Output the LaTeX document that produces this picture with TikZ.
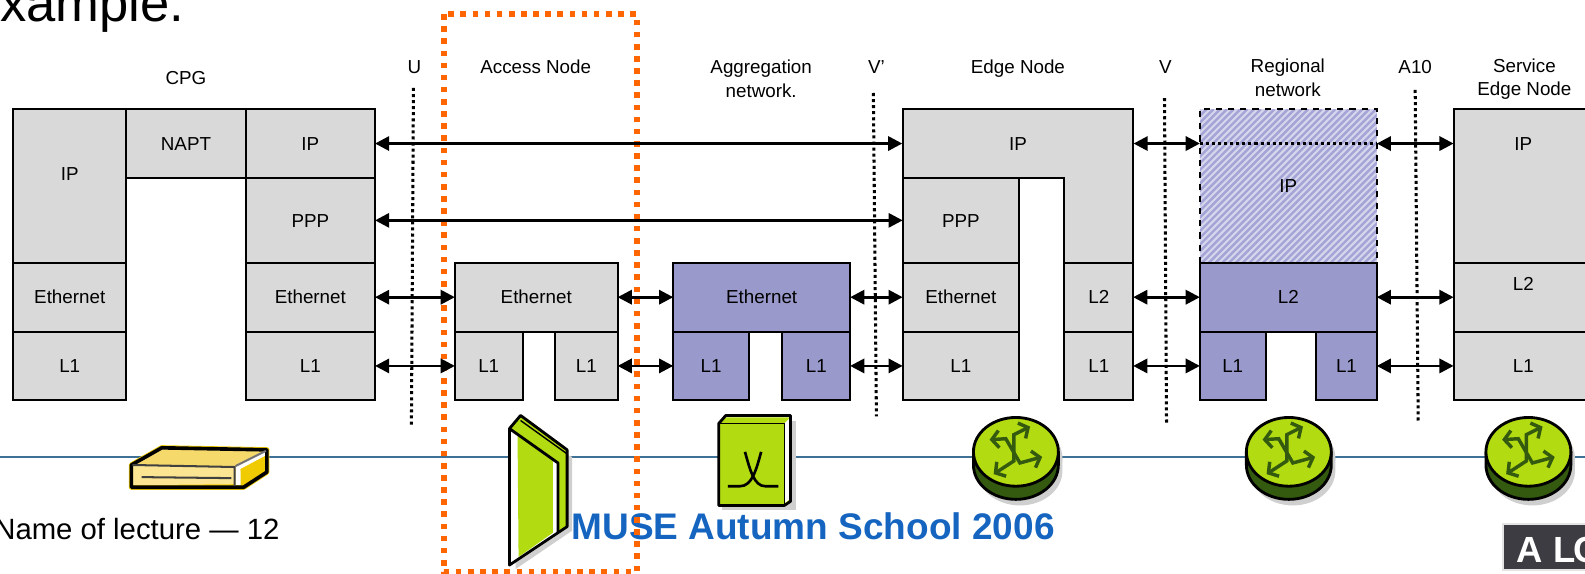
\documentclass[tikz,border=0pt]{standalone}
\usepackage{fontspec}
\setmainfont{Liberation Sans}
\usepackage{xcolor}
\usetikzlibrary{arrows.meta}

\definecolor{layergrey}{HTML}{D9D9D9}
\definecolor{layerblue}{HTML}{9999CC}
\definecolor{hatchbase}{HTML}{D6D6EC}
\definecolor{hatchline}{HTML}{A4A4D6}
\definecolor{cutorange}{HTML}{FF6600}
\definecolor{linkblue}{HTML}{3F7096}
\definecolor{museblue}{HTML}{1565C0}
\definecolor{devlime}{HTML}{B2DB11}
\definecolor{devdark}{HTML}{335A0F}
\definecolor{devshadow}{HTML}{CFCFCF}
\definecolor{cpgtop}{HTML}{F6D96B}
\definecolor{cpgfront}{HTML}{FBE592}
\definecolor{cpgside}{HTML}{F0CB00}
\definecolor{logogrey}{HTML}{3C3C42}
\definecolor{logoedge}{HTML}{E4E4E4}

\def\u{0.5pt}
\tikzset{
    layer/.style 2 args={draw=black, line width=0.95pt, inner sep=0pt, outer sep=0pt,
        minimum width=#1*\u, minimum height=#2*\u, anchor=north west,
        font=\fontsize{9.3pt}{11pt}\selectfont, text height=6.66pt, text depth=0pt},
    greylayer/.style={fill=layergrey},
    bluelayer/.style={fill=layerblue},
    hatchlayer/.style={draw=black, dashed},
    layertext/.style={font=\fontsize{9.3pt}{11pt}\selectfont, inner sep=0pt, text height=6.66pt, text depth=0pt},
    toplabel/.style={font=\fontsize{9.3pt}{11.5pt}\selectfont, align=center, inner sep=0pt},
    onelabel/.style={layertext},
    peer/.style={line width=1.35pt, {Triangle[length=7pt,width=7pt]}-{Triangle[length=7pt,width=7pt]}},
    refpoint/.style={black, line width=1.5pt, dash pattern=on 1.5pt off 1.5pt},
    routerarrow/.style={draw=devdark, line width=1.7pt, {Straight Barb[length=3.5pt,width=8.5pt]}-{Straight Barb[length=3.5pt,width=8.5pt]}},
    devline/.style={draw=black, line width=1.4pt, line join=round}
}

\begin{document}
\begin{tikzpicture}[x=0.5pt, y=-0.5pt]
    \path[use as bounding box, clip] (0,0) rectangle (1568,567);

    % slide leftovers
    \node[anchor=base west, inner sep=0pt, font=\fontsize{26pt}{30pt}\selectfont] (slidetitle) at (0,21) {xample.};
    \node[anchor=base west, inner sep=0pt, font=\fontsize{14.5pt}{17pt}\selectfont] (lecture) at (-6,534) {Name of lecture — 12};

    % access line
    \coordinate (lineleft) at (0,452);
    \coordinate (lineright) at (1568,452);
    \draw[linkblue, line width=1pt] (lineleft) -- (lineright);

    % CPG device
    \draw[cpgside, fill=cpgside, line width=2.6pt, line join=round] (130,460) -- (160,443) -- (264,445) -- (264,467) -- (241,482) -- (130,482) -- cycle;
    \fill[cpgtop] (130,460) -- (160,443) -- (264,445) -- (233,461) -- cycle;
    \fill[cpgfront] (130,460) -- (233,461) -- (233,479) -- (130,480) -- cycle;
    \fill[white] (233,461) -- (264,445) -- (264,450) -- (238,464) -- (238,480) -- (233,480) -- cycle;
    \fill[cpgside] (238,464) -- (263,451) -- (263,467) -- (240,480) -- cycle;
    \draw[devline, line width=1.8pt] (130,482) -- (130,460) -- (160,443) -- (264,445) -- (264,467) -- (241,482) -- cycle;
    \draw[draw=black!75, line width=1pt] (131,460) -- (232,462) -- (232,481);
    \draw[draw=black!55, line width=1pt] (233,461) -- (263,446);
    \draw[draw=black!75, line width=1pt] (140,472) -- (229,473);

    % access node device
    \fill[devshadow] (510,428) -- (566,452) -- (566,525) -- (510,563) -- cycle;
    \fill[devlime] (504,424) -- (515,411) -- (561,445) -- (561,521) -- (504,559) -- cycle;
    \fill[white] (504,424) -- (552,458) -- (552,527) -- (504,559) -- cycle;
    \fill[devlime] (512,431) -- (547,456) -- (547,527) -- (513,551) -- cycle;
    \draw[devline] (504,559) -- (504,424) -- (515,411) -- (561,445) -- (561,521) -- cycle;
    \draw[devline] (504,424) -- (552,458) -- (552,527);
    \draw[devline, line width=0.7pt] (515,416) -- (561,449);

    % aggregation switch device
    \fill[devshadow] (714,416) rectangle (787,505);
    \fill[white] (718,411) -- (782,411) -- (782,497) -- (776,501) -- (711,501) -- (711,419) -- cycle;
    \fill[devlime] (711,419) -- (718,413) -- (782,413) -- (782,496) -- (776,500) -- (711,500) -- cycle;
    \fill[white] (776,419) -- (781,414) -- (781,494) -- (776,498) -- cycle;
    \draw[devline] (711,500) -- (711,419) -- (718,411) -- (782,411) -- (782,496) -- (776,500) -- cycle;
    \draw[devline, line width=0.8pt] (711,419) -- (776,419) -- (776,500);
    \draw[line width=1.3pt] (720,481) -- (732,481) .. controls (744,481) and (748,465) .. (753,447);
    \draw[line width=1.3pt] (770,481) -- (757,481) .. controls (746,481) and (742,465) .. (737,447);

    % routers
    \foreach \cx in {1005,1275,1512} {
        \begin{scope}[shift={(\cx,447)}]
            \fill[devshadow] (-38,6) -- (-38,19) arc[start angle=180, end angle=0, x radius=42, y radius=34] -- (46,6) -- cycle;
            \fill[devshadow] (4,6) ellipse (42 and 34);
            \draw[devline, fill=devdark] (-42,0) -- (-42,13) arc[start angle=180, end angle=0, x radius=42, y radius=34] -- (42,0) -- cycle;
            \draw[devline, fill=devlime] (0,0) ellipse (42 and 34);
            \draw[routerarrow] (-26,-12) -- (-10,-13) -- (4,11) -- (26,5);
            \draw[routerarrow] (14,-25) -- (-2,-17) -- (-2,9) -- (-22,22);
        \end{scope}
    }

    \node[anchor=base west, inner sep=0pt, text=museblue, font=\fontsize{18.3pt}{22pt}\selectfont\bfseries] (muse) at (565,534) {MUSE Autumn School 2006};

    % logo corner
    \filldraw[draw=logoedge, fill=logogrey, line width=1pt] (1487,518) rectangle (1570,564);
    \node[anchor=base west, inner sep=0pt, text=white, font=\fontsize{18pt}{22pt}\selectfont\bfseries] (logo) at (1500,556) {A\hspace{5pt}L\hspace{-1pt}C};

    % CPG stack
    \node[layer={112}{152}, greylayer] (cpgleft) at (13,108) {};
    \node[layertext] (cpglefttext) at (69,172) {IP};
    \node[layer={118}{68}, greylayer] (cpgnapt) at (125,108) {NAPT};
    \node[layer={128}{68}, greylayer] (cpgip) at (243,108) {IP};
    \node[layer={128}{84}, greylayer] (cpgppp) at (243,176) {PPP};
    \node[layer={112}{68}, greylayer] (cpgeth) at (13,260) {Ethernet};
    \node[layer={112}{68}, greylayer] (cpgphy) at (13,328) {L1};
    \node[layer={128}{68}, greylayer] (cpgethr) at (243,260) {Ethernet};
    \node[layer={128}{68}, greylayer] (cpgphyr) at (243,328) {L1};

    % access node stack
    \node[layer={161}{68}, greylayer] (aneth) at (450,260) {Ethernet};
    \node[layer={67}{68}, greylayer] (anphyl) at (450,328) {L1};
    \node[layer={62}{68}, greylayer] (anphyr) at (549,328) {L1};

    % aggregation stack
    \node[layer={175}{68}, bluelayer] (ageth) at (666,260) {Ethernet};
    \node[layer={75}{68}, bluelayer] (agphyl) at (666,328) {L1};
    \node[layer={67}{68}, bluelayer] (agphyr) at (774,328) {L1};

    % edge node stack
    \fill[layergrey] (893,108) -| (1121,260) -- (1053,260) |- (1008,176) -- (893,176) -- cycle;
    \draw[black, line width=0.95pt] (893,176) -- (893,108) -- (1121,108) -- (1121,260) -- (1053,260) |- (1008,176) -- (893,176);
    \node[layertext, minimum width=228*\u, minimum height=68*\u] (edgeip) at (1007,142) {IP};
    \node[layer={115}{84}, greylayer] (edgeppp) at (893,176) {PPP};
    \node[layer={115}{68}, greylayer] (edgeeth) at (893,260) {Ethernet};
    \node[layer={115}{68}, greylayer] (edgephy) at (893,328) {L1};
    \node[layer={68}{68}, greylayer] (edgel2) at (1053,260) {L2};
    \node[layer={68}{68}, greylayer] (edgephyr) at (1053,328) {L1};

    % regional network stack
    \begin{scope}
        \clip (1187,108) rectangle (1362,260);
        \fill[hatchbase] (1187,108) rectangle (1362,260);
        \foreach \d in {0,6.7,...,335}
            \draw[hatchline, line width=1.2pt] ({1035+\d},260) -- ({1187+\d},108);
    \end{scope}
    \node[layer={175}{152}, hatchlayer] (regip) at (1187,108) {IP};
    \coordinate (regipl) at (1187,142);
    \coordinate (regipr) at (1362,142);
    \draw[refpoint] (regipl) -- (regipr);
    \node[layer={175}{68}, bluelayer] (regl2) at (1187,260) {L2};
    \node[layer={65}{68}, bluelayer] (regphyl) at (1187,328) {L1};
    \node[layer={60}{68}, bluelayer] (regphyr) at (1302,328) {L1};

    % service edge stack
    \node[layer={140}{152}, greylayer] (serip) at (1438,108) {};
    \node[layertext] (seriptext) at (1507,142) {IP};
    \coordinate (seripl) at (1438,142);
    \node[layer={140}{68}, greylayer] (serl2) at (1438,260) {};
    \node[layertext] (serl2text) at (1507,281) {L2};
    \node[layer={140}{68}, greylayer] (serphy) at (1438,328) {};
    \node[layertext] (serphytext) at (1507,362) {L1};

    % labels
    \node[onelabel] (cpglabel) at (184,77) {CPG};
    \node[onelabel] (ulabel) at (410,66) {U};
    \node[onelabel] (anlabel) at (530,66) {Access Node};
    \node[toplabel] (aglabel) at (753,78) {Aggregation\\network.};
    \node[onelabel] (vplabel) at (867,66) {V'};
    \node[onelabel] (edgelabel) at (1007,66) {Edge Node};
    \node[onelabel] (vlabel) at (1153,66) {V};
    \node[toplabel] (reglabel) at (1274,77) {Regional\\network};
    \node[onelabel] (a10label) at (1400,66) {A10};
    \node[toplabel] (serlabel) at (1508,78) {Service\\Edge Node};

    % reference points
    \coordinate (utop) at (409,87);
    \coordinate (ubot) at (407,422);
    \coordinate (vptop) at (864,92);
    \coordinate (vpbot) at (867,412);
    \coordinate (vtop) at (1152,97);
    \coordinate (vbot) at (1154,418);
    \coordinate (a10top) at (1400,89);
    \coordinate (a10bot) at (1403,416);
    \draw[refpoint] (utop) -- (ubot);
    \draw[refpoint] (vptop) -- (vpbot);
    \draw[refpoint] (vtop) -- (vbot);
    \draw[refpoint] (a10top) -- (a10bot);

    % access node marking
    \draw[cutorange, line width=2.75pt, dash pattern=on 2.75pt off 3.25pt] (439,14) rectangle (630,566);

    % peer links
    \draw[peer] (cpgip.east) -- (edgeip.west);
    \draw[peer] (cpgppp.east) -- (edgeppp.west);
    \draw[peer] (edgeip.east) -- (regipl);
    \draw[peer] (regipr) -- (seripl);
    \draw[peer] (cpgethr.east) -- (aneth.west);
    \draw[peer] (aneth.east) -- (ageth.west);
    \draw[peer] (ageth.east) -- (edgeeth.west);
    \draw[peer] (edgel2.east) -- (regl2.west);
    \draw[peer] (regl2.east) -- (serl2.west);
    \draw[peer] (cpgphyr.east) -- (anphyl.west);
    \draw[peer] (anphyr.east) -- (agphyl.west);
    \draw[peer] (agphyr.east) -- (edgephy.west);
    \draw[peer] (edgephyr.east) -- (regphyl.west);
    \draw[peer] (regphyr.east) -- (serphy.west);
\end{tikzpicture}
\end{document}
